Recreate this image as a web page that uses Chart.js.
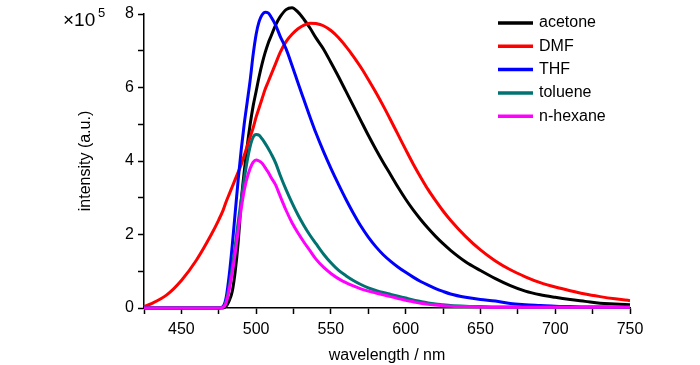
<!DOCTYPE html>
<html>
<head>
<meta charset="utf-8">
<script src="https://cdn.jsdelivr.net/npm/chart.js@4"></script>
<style>
  html, body { margin: 0; padding: 0; background: #fff; }
  canvas { display: block; }
</style>
</head>
<body>
<canvas id="chart" width="700" height="365"></canvas>
<script>
const wavelength = [425, 430, 440, 450, 460, 470, 475,
  478, 480, 482, 484, 486, 488, 490, 492, 494, 496, 498, 500, 502, 504, 506, 508, 510,
  513, 516, 520, 524, 528, 532, 536, 540,
  545, 550, 555, 560, 565, 570, 575, 580, 585, 590, 595, 600, 605, 610, 615, 620, 625, 630,
  640, 650, 660, 670, 680, 690, 700, 710, 720, 730, 740, 750];

const acetone = [0, 0, 0, 0, 0, 0, 0,
  0, 0.05, 0.2, 0.45, 1.0, 1.8, 2.9, 3.7, 4.4, 5.0, 5.5, 5.9, 6.3, 6.65, 6.95, 7.2, 7.4,
  7.7, 7.92, 8.12, 8.17, 8.05, 7.85, 7.62, 7.35,
  7.05, 6.68, 6.3, 5.9, 5.5, 5.1, 4.7, 4.32, 3.96, 3.62, 3.28, 2.96, 2.67, 2.41, 2.17, 1.95, 1.75, 1.57,
  1.26, 1.02, 0.8, 0.61, 0.46, 0.36, 0.29, 0.23, 0.18, 0.13, 0.11, 0.09];

const dmf = [0.04, 0.12, 0.35, 0.75, 1.3, 2.0, 2.4,
  2.67, 2.9, 3.1, 3.3, 3.5, 3.7, 3.9, 4.15, 4.4, 4.65, 4.9, 5.2, 5.45, 5.7, 5.95, 6.15, 6.35,
  6.65, 6.95, 7.25, 7.45, 7.6, 7.7, 7.75, 7.74,
  7.68, 7.55, 7.36, 7.12, 6.85, 6.55, 6.22, 5.87, 5.5, 5.11, 4.71, 4.31, 3.92, 3.56, 3.22, 2.92, 2.64, 2.39,
  1.95, 1.58, 1.28, 1.04, 0.85, 0.69, 0.57, 0.47, 0.38, 0.31, 0.25, 0.2];

const thf = [0, 0, 0, 0, 0, 0, 0,
  0.05, 0.3, 0.9, 1.7, 2.6, 3.5, 4.3, 5.0, 5.6, 6.2, 6.9, 7.45, 7.8, 7.98, 8.05, 8.03, 7.92,
  7.7, 7.4, 7.05, 6.6, 6.12, 5.66, 5.2, 4.76,
  4.26, 3.8, 3.37, 2.96, 2.58, 2.23, 1.93, 1.67, 1.45, 1.27, 1.11, 0.97, 0.84, 0.72, 0.62, 0.53, 0.45, 0.38,
  0.29, 0.23, 0.19, 0.12, 0.09, 0.07, 0.05, 0.04, 0.03, 0.03, 0.02, 0.02];

const toluene = [0, 0, 0, 0, 0, 0, 0,
  0.03, 0.2, 0.6, 1.1, 1.7, 2.35, 2.95, 3.5, 4.0, 4.4, 4.65, 4.72, 4.7, 4.6, 4.48, 4.35, 4.2,
  3.95, 3.62, 3.22, 2.86, 2.53, 2.24, 1.98, 1.75,
  1.47, 1.23, 1.03, 0.88, 0.75, 0.64, 0.55, 0.48, 0.42, 0.37, 0.32, 0.27, 0.22, 0.18, 0.14, 0.11, 0.09, 0.07,
  0.05, 0.04, 0.03, 0.03, 0.02, 0.02, 0.02, 0.02, 0.02, 0.02, 0.02, 0.02];

const hexane = [0, 0, 0, 0, 0, 0, 0,
  0.02, 0.15, 0.5, 0.95, 1.5, 2.1, 2.7, 3.2, 3.55, 3.8, 3.97, 4.03, 4.0, 3.94, 3.82, 3.7, 3.55,
  3.35, 3.05, 2.66, 2.32, 2.04, 1.79, 1.56, 1.33,
  1.11, 0.94, 0.8, 0.69, 0.6, 0.52, 0.46, 0.41, 0.36, 0.31, 0.26, 0.21, 0.17, 0.13, 0.1, 0.08, 0.06, 0.05,
  0.04, 0.03, 0.02, 0.02, 0.02, 0.02, 0.02, 0.02, 0.02, 0.02, 0.02, 0.02];

const seriesNames = ['acetone', 'DMF', 'THF', 'toluene', 'n-hexane'];
const seriesValues = [acetone, dmf, thf, toluene, hexane];
const seriesColors = ['#000000', '#ff0000', '#0000ff', '#007272', '#ff00ff'];

const xTickLabels = [450, 500, 550, 600, 650, 700, 750];
const yTickLabels = [0, 2, 4, 6, 8];

const FONT = 'Liberation Sans, Arial, sans-serif';

const legendPlugin = {
  id: 'sideLegend',
  afterDraw(chart) {
    const ctx = chart.ctx;
    ctx.save();
    chart.data.datasets.forEach((ds, i) => {
      const y = 23 + i * 23.3;
      ctx.strokeStyle = ds.borderColor;
      ctx.lineWidth = 3.5;
      ctx.beginPath();
      ctx.moveTo(498, y);
      ctx.lineTo(533, y);
      ctx.stroke();
      ctx.fillStyle = '#000';
      ctx.font = '16px ' + FONT;
      ctx.textBaseline = 'middle';
      ctx.textAlign = 'left';
      ctx.fillText(ds.label, 539, y);
    });
    ctx.font = '19px ' + FONT;
    ctx.textBaseline = 'alphabetic';
    ctx.fillText('\u00d710', 63, 26);
    ctx.font = '13px ' + FONT;
    ctx.fillText('5', 98, 17);
    ctx.restore();
  }
};

new Chart(document.getElementById('chart'), {
  type: 'line',
  data: {
    labels: wavelength,
    datasets: seriesNames.map((name, i) => ({
      label: name,
      data: seriesValues[i].map((v, j) => ({ x: wavelength[j], y: v })),
      borderColor: seriesColors[i],
      backgroundColor: seriesColors[i],
      borderWidth: 3,
      pointRadius: 0,
      cubicInterpolationMode: 'monotone',
      clip: false,
      order: seriesNames.length - i
    }))
  },
  options: {
    responsive: false,
    animation: false,
    layout: { padding: { left: 76, right: 70, top: 14, bottom: 0 } },
    plugins: {
      legend: { display: false },
      tooltip: { enabled: false }
    },
    scales: {
      x: {
        type: 'linear',
        min: 425,
        max: 750,
        afterFit: (scale) => { scale.height = 57; },
        afterBuildTicks: (scale) => {
          const t = [];
          for (let v = 425; v <= 750; v += 25) t.push({ value: v });
          scale.ticks = t;
        },
        ticks: {
          autoSkip: false,
          maxRotation: 0,
          color: '#000',
          padding: 6,
          font: { family: FONT, size: 16 },
          callback: (v) => xTickLabels.includes(v) ? String(v) : ''
        },
        grid: { display: true, drawOnChartArea: false, drawTicks: true, tickLength: 6, tickColor: '#000', tickWidth: 1.5 },
        border: { display: true, color: '#000', width: 1.5 },
        title: { display: true, text: 'wavelength / nm', color: '#000', font: { family: FONT, size: 16 }, padding: { top: 0, bottom: 0 } }
      },
      y: {
        min: 0,
        max: 8,
        afterFit: (scale) => { scale.width = 68; },
        ticks: {
          stepSize: 1,
          autoSkip: false,
          color: '#000',
          padding: 4,
          font: { family: FONT, size: 16 },
          callback: (v) => yTickLabels.includes(v) ? String(v) : ''
        },
        grid: { display: true, drawOnChartArea: false, drawTicks: true, tickLength: 6, tickColor: '#000', tickWidth: 1.5 },
        border: { display: true, color: '#000', width: 1.5 },
        title: { display: true, text: 'intensity (a.u.)', color: '#000', font: { family: FONT, size: 16 }, padding: { top: 0, bottom: 0 } }
      }
    }
  },
  plugins: [legendPlugin]
});
</script>
</body>
</html>
